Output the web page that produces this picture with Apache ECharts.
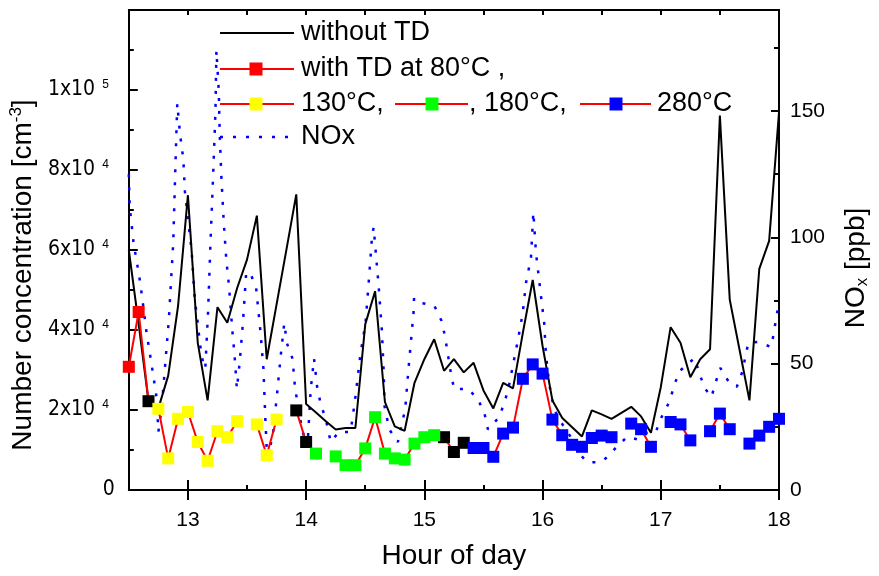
<!DOCTYPE html>
<html>
<head>
<meta charset="utf-8">
<script src="https://cdn.jsdelivr.net/npm/echarts@6/dist/echarts.min.js"></script>
<style>
  html, body { margin: 0; padding: 0; background: #ffffff; }
  #chart { width: 879px; height: 576px; }
</style>
</head>
<body>
<div id="chart"></div>
<script>
// Particle measurements: one sample every 5 minutes from 12:30 to 18:00
const startHour = 12.5;
const stepHours = 5 / 60;

// Number concentration without thermodenuder [cm^-3]
const withoutTD = [
  60000, 41500, 22200, 20400, 28600, 46000, 73700, 36800, 22400, 45700,
  41800, 50500, 57600, 68600, 32700, 46400, 60100, 73900, 21500, 19400,
  17200, 15100, 15500, 15500, 41400, 49700, 22000, 15900, 14800, 26800,
  32700, 37700, 29800, 32700, 29400, 31800, 24900, 20400, 26800, 25400,
  39300, 52500, 36000, 22400, 18000, 15700, 13400, 19900, 18900, 17800,
  19300, 20800, 18400, 14300, 25700, 40700, 36800, 28200, 32700, 35200,
  93600, 47600, 35000, 22400, 55300, 62300, 94400
];

// Number concentration through the thermodenuder line [cm^-3]; null = no sample
const tdConc = [
  30800, 44500, 22200, 20300, 7900, 17800, 19500, 12000, 7300, 14700,
  13200, 17200, null, 16400, 8700, 17600, null, 19900, 12000, 9100,
  null, 8400, 6200, 6200, 10400, 18200, 9100, 7900, 7600, 11600,
  13200, 13700, 13200, 9500, 11800, 10500, 10500, 8300, 14100, 15600,
  27800, 31400, 29100, 17600, 13700, 11300, 10800, 13000, 13600, 13200,
  null, 16600, 15200, 10800, null, 17000, 16400, 12400, null, 14700,
  19100, 15200, null, 11600, 13600, 15800, 17800
];
// Thermodenuder setting for each sample: R=80°C, Y=130°C, G=180°C, B=280°C, K=bypass
const tdStage = 'RRKYYYYYYYYY-YYY-KKG-GGGGGGGGGGGKKKBBBBBBBBBBBBBBB-BBB-BBB-BBB-BBBB';

// NOx mixing ratio [ppb]
const noxHour = [
  12.500, 12.508, 12.540, 12.597, 12.651, 12.695, 12.737, 12.750, 12.779, 12.838,
  12.876, 12.891, 12.910, 12.933, 12.961, 12.975, 13.003, 13.031, 13.059, 13.084,
  13.101, 13.129, 13.147, 13.171, 13.191, 13.213, 13.233, 13.241, 13.261, 13.269,
  13.283, 13.303, 13.325, 13.347, 13.376, 13.395, 13.414, 13.437, 13.465, 13.493,
  13.527, 13.577, 13.613, 13.639, 13.655, 13.670, 13.717, 13.754, 13.787, 13.815,
  13.838, 13.885, 13.905, 13.941, 13.977, 14.011, 14.039, 14.067, 14.095, 14.124,
  14.166, 14.208, 14.277, 14.376, 14.412, 14.460, 14.502, 14.529, 14.557, 14.571,
  14.613, 14.641, 14.655, 14.664, 14.703, 14.776, 14.838, 14.866, 14.908, 14.913,
  14.977, 15.084, 15.145, 15.174, 15.229, 15.252, 15.370, 15.454, 15.510, 15.538,
  15.636, 15.706, 15.790, 15.832, 15.860, 15.902, 15.922, 15.944, 15.986, 16.014,
  16.028, 16.056, 16.098, 16.140, 16.182, 16.252, 16.308, 16.378, 16.490, 16.546,
  16.605, 16.714, 16.807, 16.882, 16.958, 17.008, 17.067, 17.109, 17.151, 17.218,
  17.286, 17.328, 17.370, 17.429, 17.462, 17.504, 17.571, 17.643, 17.689, 17.740,
  17.824, 17.933, 17.958, 17.975, 18.000
];
const noxPpb = [
  125, 112, 98, 82, 62, 49, 36, 23, 33, 67,
  98, 123, 153, 141, 131, 118, 106, 95, 75, 66,
  58, 50, 48, 71, 98, 124, 150, 174, 158, 141,
  124, 106, 91, 81, 63, 53, 40, 50, 66, 86,
  86, 80, 63, 48, 28, 13, 21, 38, 54, 66,
  58, 52, 41, 30, 22, 17, 40, 52, 40, 34,
  28, 19, 23, 23, 35, 54, 66, 82, 100, 104,
  81, 63, 48, 33, 24, 19, 32, 48, 70, 76,
  74, 73, 67, 61, 45, 40, 40, 36, 30, 24,
  29, 39, 59, 70, 82, 92, 110, 94, 77, 66,
  54, 42, 32, 28, 25, 20, 14.5, 11, 11, 13,
  16, 21, 20, 22.6, 23, 29, 34.4, 40.4, 46.7, 49.5,
  52.2, 46, 40.4, 36.8, 42.3, 48.3, 43.1, 40.8, 46.7, 58.2,
  58.6, 56.6, 62.5, 68, 74
];

// Axis ticks and labels
const hourLabels = [13, 14, 15, 16, 17, 18];
const concTicks = [0, 20000, 40000, 60000, 80000, 100000];
const concTickLabels = [['0', ''], ['2x10', '4'], ['4x10', '4'], ['6x10', '4'], ['8x10', '4'], ['1x10', '5']];
const noxTicks = [0, 50, 100, 150];
const noxMinorTicks = [25, 75, 125, 175];

const stageColors = { R: '#ff0000', Y: '#ffff00', G: '#00ff00', B: '#0000ff', K: '#000000' };

const hourAt = i => startHour + i * stepHours;
const blackLine = withoutTD.map((v, i) => [hourAt(i), v]);
const tdLine = tdConc.map((v, i) => [hourAt(i), v === null ? null : v]);
const noxLine = noxHour.map((h, i) => [h, noxPpb[i]]);
function stagePoints(code) {
  const pts = [];
  tdConc.forEach((v, i) => { if (v !== null && tdStage[i] === code) pts.push([hourAt(i), v]); });
  return pts;
}

const FONT = '"Liberation Sans", Arial, sans-serif';
const NARROW = '"Liberation Sans Narrow", "DejaVu Sans Condensed", "Liberation Sans", Arial, sans-serif';
const axisColor = '#000000';

const chart = echarts.init(document.getElementById('chart'), null, { renderer: 'canvas' });

const xBase = {
  type: 'value', min: 12.5, max: 18, gridIndex: 0,
  splitLine: { show: false },
  axisLine: { show: true, onZero: false, lineStyle: { color: axisColor, width: 2 } }
};

const legendFont = '27px ' + FONT;
const legendRows = [33, 69, 104, 137];
function legLine(x1, x2, y, color, dash) {
  return { type: 'line', silent: true, z: 100,
    shape: { x1: x1, y1: y, x2: x2, y2: y },
    style: { stroke: color, lineWidth: dash ? 2.5 : 2, lineDash: dash || null } };
}
function legSquare(cx, y, color) {
  return { type: 'rect', silent: true, z: 101,
    shape: { x: cx - 6.5, y: y - 6.5, width: 13, height: 13 },
    style: { fill: color } };
}
function legText(x, y, text) {
  return { type: 'text', silent: true, z: 101, x: x, y: y,
    style: { text: text, font: legendFont, fill: '#000', verticalAlign: 'middle', align: 'left' } };
}

const option = {
  animation: false,
  backgroundColor: '#ffffff',
  grid: { left: 128, right: 96, top: 10, bottom: 86, containLabel: false },
  xAxis: [
    Object.assign({}, xBase, {
      position: 'bottom', interval: 0.5,
      name: 'Hour of day', nameLocation: 'middle', nameGap: 52,
      nameTextStyle: { fontFamily: FONT, fontSize: 28, color: '#000' },
      axisTick: { show: true, inside: true, length: 5, lineStyle: { color: axisColor, width: 2 } },
      axisLabel: { show: true, customValues: hourLabels, margin: 20, fontFamily: FONT, fontSize: 21, color: '#000' }
    }),
    Object.assign({}, xBase, {
      position: 'bottom',
      axisLine: { show: false },
      axisTick: { show: true, inside: true, length: 10, customValues: hourLabels, lineStyle: { color: axisColor, width: 2 } },
      axisLabel: { show: false }
    }),
    Object.assign({}, xBase, {
      position: 'top', interval: 0.5,
      axisTick: { show: true, inside: true, length: 5, lineStyle: { color: axisColor, width: 2 } },
      axisLabel: { show: false }
    }),
    Object.assign({}, xBase, {
      position: 'top',
      axisLine: { show: false },
      axisTick: { show: true, inside: true, length: 10, customValues: hourLabels, lineStyle: { color: axisColor, width: 2 } },
      axisLabel: { show: false }
    })
  ],
  yAxis: [
    {
      type: 'value', position: 'left', min: 0, max: 120000, interval: 20000,
      splitLine: { show: false },
      axisLine: { show: true, onZero: false, lineStyle: { color: axisColor, width: 2 } },
      axisTick: { show: true, inside: true, length: 9, lineStyle: { color: axisColor, width: 2 } },
      minorTick: { show: true, splitNumber: 2, length: 5, lineStyle: { color: axisColor, width: 2 } },
      axisLabel: {
        show: true, margin: 20, color: '#000',
        formatter: function (v) {
          const k = concTicks.indexOf(v);
          if (k < 0) return '';
          const lab = concTickLabels[k];
          return lab[1] ? '{b|' + lab[0] + '}{s|' + lab[1] + '}' : '{z|' + lab[0] + '}';
        },
        rich: {
          b: { fontFamily: NARROW, fontSize: 21, lineHeight: 22, color: '#000' },
          z: { fontFamily: NARROW, fontSize: 21, lineHeight: 22, color: '#000', padding: [0, -6, 0, 0] },
          s: { fontFamily: FONT, fontSize: 12, lineHeight: 22, verticalAlign: 'top', padding: [0, 0, 0, 7], color: '#000' }
        }
      },
      name: 'Number concentration [cm{sup|-3}]',
      nameLocation: 'middle', nameGap: 69, nameRotate: 90,
      nameTextStyle: {
        fontFamily: FONT, fontSize: 28, color: '#000', padding: [0, 50, 0, 0],
        rich: { sup: { fontFamily: FONT, fontSize: 17, verticalAlign: 'top', lineHeight: 30, color: '#000' } }
      }
    },
    {
      type: 'value', position: 'right', min: 0, max: 190,
      splitLine: { show: false },
      axisLine: { show: true, onZero: false, lineStyle: { color: axisColor, width: 2 } },
      axisTick: { show: true, inside: true, length: 8, customValues: noxTicks, lineStyle: { color: axisColor, width: 2 } },
      axisLabel: { show: true, customValues: noxTicks, margin: 11, fontFamily: FONT, fontSize: 21, color: '#000' },
      name: 'NO{sub|x} [ppb]',
      nameLocation: 'middle', nameGap: 62, nameRotate: 90,
      nameTextStyle: {
        fontFamily: FONT, fontSize: 28, color: '#000', padding: [0, 36, 0, 0],
        rich: { sub: { fontFamily: FONT, fontSize: 17, verticalAlign: 'bottom', lineHeight: 30, color: '#000' } }
      }
    },
    {
      type: 'value', position: 'right', min: 0, max: 190,
      splitLine: { show: false },
      axisLine: { show: false },
      axisTick: { show: true, inside: true, length: 5, customValues: noxMinorTicks, lineStyle: { color: axisColor, width: 2 } },
      axisLabel: { show: false }
    }
  ],
  series: [
    {
      name: 'NOx', type: 'line', xAxisIndex: 0, yAxisIndex: 1,
      data: noxLine, showSymbol: false, symbol: 'none', clip: true,
      lineStyle: { color: '#0000ff', width: 2.5, type: [3, 10], cap: 'butt' },
      z: 2
    },
    {
      name: 'without TD', type: 'line', xAxisIndex: 0, yAxisIndex: 0,
      data: blackLine, showSymbol: false, symbol: 'none', clip: true,
      lineStyle: { color: '#000000', width: 2 },
      z: 3
    },
    {
      name: 'with TD', type: 'line', xAxisIndex: 0, yAxisIndex: 0,
      data: tdLine, showSymbol: false, symbol: 'none', connectNulls: false, clip: true,
      lineStyle: { color: '#ff0000', width: 2 },
      z: 4
    }
  ].concat(['K', 'R', 'Y', 'G', 'B'].map(code => ({
    name: 'stage ' + code, type: 'scatter', xAxisIndex: 0, yAxisIndex: 0,
    data: stagePoints(code), symbol: 'rect', symbolSize: 12,
    itemStyle: { color: stageColors[code], opacity: 1 },
    z: 5
  }))),
  graphic: [
    legLine(220, 294, legendRows[0], '#000000'),
    legText(301, legendRows[0], 'without TD'),
    legLine(220, 294, legendRows[1], '#ff0000'),
    legSquare(256, legendRows[1], stageColors.R),
    legText(301, legendRows[1], 'with TD at 80°C ,'),
    legLine(220, 294, legendRows[2], '#ff0000'),
    legSquare(256, legendRows[2], stageColors.Y),
    legText(301, legendRows[2], '130°C,'),
    legLine(395, 468, legendRows[2], '#ff0000'),
    legSquare(432, legendRows[2], stageColors.G),
    legText(469, legendRows[2], ', 180°C,'),
    legLine(580, 651, legendRows[2], '#ff0000'),
    legSquare(616, legendRows[2], stageColors.B),
    legText(657, legendRows[2], '280°C'),
    legLine(220, 294, legendRows[3], '#0000ff', [3, 10]),
    legText(301, legendRows[3], 'NOx')
  ]
};

chart.setOption(option);
</script>
</body>
</html>
